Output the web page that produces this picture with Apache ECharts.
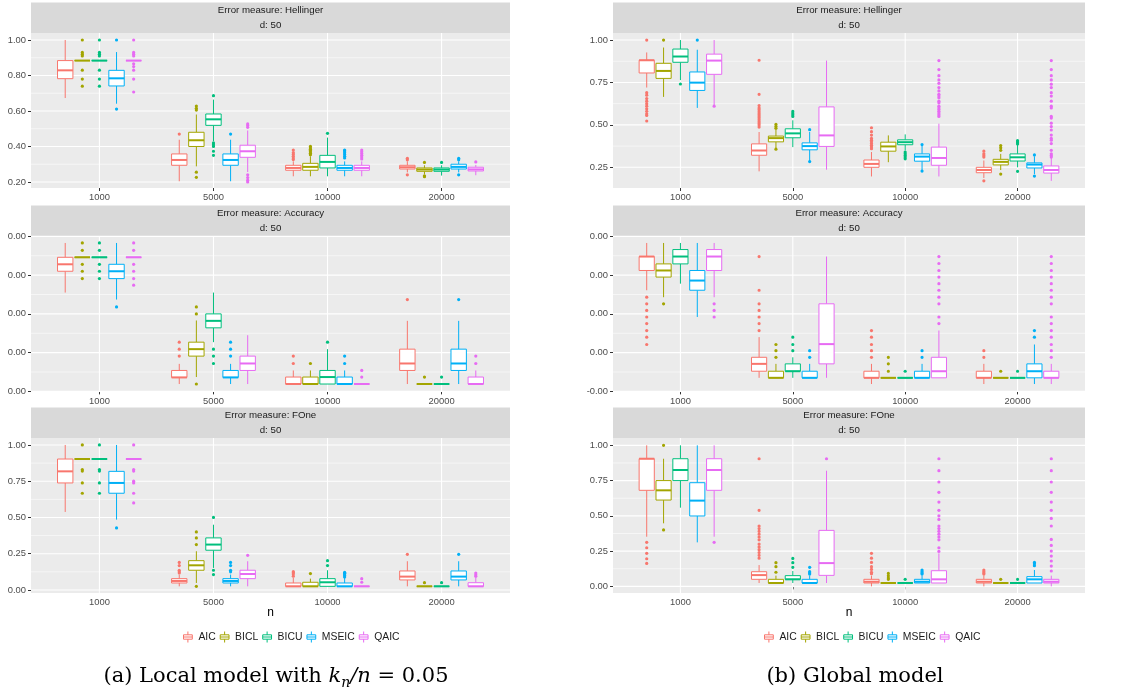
<!DOCTYPE html>
<html><head><meta charset="utf-8">
<script src="https://cdn.jsdelivr.net/npm/echarts@6/dist/echarts.min.js"></script>
<style>html,body{margin:0;padding:0;background:#fff}#c{width:1129px;height:698px}</style>
</head><body><div id="c"></div><script>
// ---------- data ----------
const nLabels = ['1000', '5000', '10000', '20000'];
const methods = ['AIC', 'BICL', 'BICU', 'MSEIC', 'QAIC'];
const colors = ['#F8766D', '#A3A500', '#00BF7D', '#00B0F6', '#E76BF3'];

// stats per method, per n: [lower whisker, Q1, median, Q3, upper whisker]
const helLocalStats = [
  [[0.673,0.782,0.829,0.884,1.00],[0.204,0.294,0.324,0.358,0.438],[0.232,0.266,0.279,0.294,0.316],[0.254,0.273,0.283,0.294,0.316]],
  [[0.884,0.884,0.884,0.884,0.884],[0.288,0.400,0.435,0.480,0.580],[0.232,0.266,0.285,0.305,0.345],[0.243,0.260,0.270,0.279,0.294]],
  [[0.884,0.884,0.884,0.884,0.884],[0.430,0.519,0.553,0.583,0.664],[0.232,0.279,0.313,0.350,0.450],[0.236,0.260,0.270,0.279,0.294]],
  [[0.641,0.741,0.784,0.829,0.932],[0.204,0.294,0.324,0.358,0.438],[0.232,0.266,0.279,0.294,0.316],[0.254,0.273,0.285,0.300,0.316]],
  [[0.884,0.884,0.884,0.884,0.884],[0.256,0.339,0.373,0.407,0.490],[0.232,0.266,0.279,0.294,0.316],[0.238,0.262,0.271,0.283,0.296]]
];
const helLocalOut = [
  [[],[0.47],[0.326,0.335,0.345,0.355,0.365,0.38],[0.325,0.333,0.24]],
  [[1.0,0.93,0.92,0.91,0.83,0.78,0.74],[0.628,0.615,0.605,0.255,0.226],[0.354,0.362,0.37,0.378,0.385,0.392,0.40],[0.31,0.235,0.23]],
  [[1.0,0.93,0.92,0.91,0.83,0.78,0.74],[0.686,0.42,0.41,0.40,0.373,0.35],[0.474],[0.31]],
  [[1.0,0.611],[0.47],[0.335,0.345,0.355,0.365,0.375,0.38],[0.325,0.333,0.24]],
  [[1.0,0.93,0.92,0.91,0.866,0.85,0.83,0.78,0.707],[0.527,0.518,0.508,0.24,0.225,0.21,0.20],[0.33,0.34,0.35,0.36,0.37,0.38],[0.313]]
];
const helGlobalStats = [
  [[0.720,0.806,0.881,0.881,0.927],[0.226,0.321,0.349,0.388,0.458],[0.196,0.250,0.270,0.293,0.340],[0.187,0.218,0.234,0.250,0.290]],
  [[0.665,0.774,0.818,0.863,0.956],[0.357,0.400,0.422,0.434,0.470],[0.280,0.345,0.373,0.398,0.438],[0.234,0.264,0.282,0.297,0.329]],
  [[0.764,0.869,0.903,0.947,1.000],[0.369,0.424,0.450,0.477,0.527],[0.349,0.383,0.398,0.412,0.444],[0.250,0.287,0.309,0.329,0.385]],
  [[0.600,0.703,0.749,0.812,0.943],[0.284,0.353,0.375,0.394,0.458],[0.234,0.286,0.313,0.329,0.378],[0.210,0.246,0.266,0.276,0.315]],
  [[0.610,0.798,0.879,0.917,1.000],[0.236,0.373,0.438,0.606,0.879],[0.196,0.262,0.305,0.369,0.507],[0.170,0.216,0.234,0.258,0.310]]
];
const helGlobalOut = [
  [[1.0,0.69,0.675,0.655,0.64,0.625,0.61,0.595,0.58,0.565,0.556,0.523],[0.881,0.68,0.614,0.60,0.59,0.58,0.57,0.56,0.55,0.54,0.53,0.52,0.51,0.50,0.487],[0.483,0.46,0.44,0.42,0.41,0.40,0.39,0.38,0.37,0.36],[0.345,0.33,0.32,0.31,0.17]],
  [[1.0],[0.503,0.49,0.48,0.357],[],[0.378,0.365,0.35,0.21]],
  [[0.741],[0.58,0.57,0.56,0.55],[0.34,0.33,0.32,0.31,0.30],[0.408,0.40,0.395,0.388,0.226]],
  [[1.0],[0.472,0.284],[0.384,0.228],[0.323,0.198]],
  [[0.61],[],[0.879,0.826,0.79,0.765,0.745,0.72,0.70,0.68,0.67,0.66,0.64,0.63,0.61,0.60,0.59,0.58,0.57,0.56,0.55],[0.879,0.826,0.79,0.765,0.74,0.72,0.69,0.67,0.64,0.61,0.60,0.55,0.54,0.51,0.49,0.47,0.44,0.42,0.41,0.39,0.35,0.33,0.32,0.31]]
];
const accLocalStats = [
  [[2.55,3.10,3.28,3.46,3.83],[0.19,0.36,0.36,0.54,0.71],[0.19,0.19,0.19,0.37,0.54],[0.19,0.54,0.72,1.09,1.82]],
  [[3.46,3.46,3.46,3.46,3.46],[0.37,0.91,1.09,1.27,1.83],[0.19,0.19,0.19,0.37,0.54],[0.19,0.19,0.19,0.19,0.19]],
  [[3.46,3.46,3.46,3.46,3.46],[1.27,1.64,1.82,2.00,2.55],[0.19,0.19,0.37,0.54,1.09],[0.19,0.19,0.19,0.19,0.19]],
  [[2.37,2.91,3.10,3.28,3.83],[0.19,0.36,0.36,0.54,0.71],[0.19,0.19,0.19,0.37,0.54],[0.19,0.54,0.72,1.09,1.82]],
  [[3.46,3.46,3.46,3.46,3.46],[0.19,0.54,0.72,0.91,1.45],[0.19,0.19,0.19,0.19,0.19],[0.19,0.19,0.19,0.37,0.54]]
];
const accLocalOut = [
  [[],[1.27,1.09,0.91],[0.91,0.72],[2.37]],
  [[3.83,3.64,3.28,3.10,2.91],[2.18,2.00,0.19],[0.72],[0.37]],
  [[3.83,3.64,3.28,3.10,2.91],[1.09,0.91,0.72],[1.27],[0.37]],
  [[2.18],[1.27,1.09,0.91],[0.91,0.72],[2.37]],
  [[3.83,3.64,3.28,3.10,2.91,2.74],[],[0.54,0.37],[0.91,0.72]]
];
const accGlobalStats = [
  [[2.61,3.12,3.48,3.48,3.83],[0.35,0.52,0.71,0.88,1.40],[0.19,0.35,0.35,0.52,0.71],[0.19,0.35,0.35,0.52,0.71]],
  [[2.43,2.95,3.12,3.29,3.83],[0.35,0.35,0.35,0.52,0.71],[0.35,0.35,0.35,0.35,0.35],[0.35,0.35,0.35,0.35,0.35]],
  [[2.78,3.29,3.48,3.66,3.83],[0.35,0.52,0.52,0.71,0.88],[0.35,0.35,0.35,0.35,0.35],[0.35,0.35,0.35,0.35,0.35]],
  [[1.92,2.61,2.86,3.12,3.83],[0.35,0.35,0.35,0.52,0.71],[0.35,0.35,0.35,0.52,0.71],[0.19,0.35,0.52,0.71,1.21]],
  [[2.43,3.12,3.48,3.66,3.83],[0.35,0.71,1.22,2.26,3.48],[0.35,0.35,0.52,0.88,1.57],[0.19,0.35,0.35,0.52,0.71]]
];
const accGlobalOut = [
  [[2.43,2.26,2.09,1.92,1.75,1.57,1.40,1.21],[3.48,2.61,2.26,2.09,1.92,1.75,1.57],[1.57,1.40,1.21,1.05,0.88],[1.05,0.88]],
  [[2.26],[1.21,1.05,0.88],[0.88,0.71,0.52],[0.52]],
  [[],[1.40,1.21,1.05],[0.52],[0.52]],
  [[],[1.05,0.88],[1.05,0.88],[1.57,1.40]],
  [[2.26,2.09,1.92],[],[3.48,3.30,3.12,2.95,2.78,2.61,2.43,2.26,1.92,1.75],[3.48,3.30,3.12,2.95,2.78,2.61,2.43,2.26,1.92,1.75,1.57,1.40,1.21,1.05,0.88]]
];
const foneLocalStats = [
  [[0.538,0.738,0.818,0.903,1.0],[0.025,0.048,0.062,0.078,0.106],[0.025,0.025,0.025,0.048,0.083],[0.025,0.069,0.092,0.131,0.198]],
  [[0.903,0.903,0.903,0.903,0.903],[0.048,0.136,0.170,0.202,0.267],[0.025,0.025,0.025,0.053,0.078],[0.025,0.025,0.025,0.025,0.025]],
  [[0.903,0.903,0.903,0.903,0.903],[0.152,0.274,0.313,0.359,0.450],[0.025,0.025,0.053,0.078,0.136],[0.025,0.025,0.025,0.025,0.025]],
  [[0.485,0.667,0.738,0.818,1.0],[0.025,0.048,0.062,0.078,0.106],[0.025,0.025,0.025,0.048,0.083],[0.025,0.069,0.092,0.131,0.198]],
  [[0.903,0.903,0.903,0.903,0.903],[0.025,0.078,0.110,0.136,0.198],[0.025,0.025,0.025,0.025,0.025],[0.025,0.025,0.025,0.050,0.083]]
];
const foneLocalOut = [
  [[],[0.19,0.168,0.136,0.125,0.117],[0.126,0.118,0.11,0.095],[0.246]],
  [[1.0,0.83,0.82,0.738,0.667],[0.40,0.359,0.313,0.025],[0.113],[0.05]],
  [[1.0,0.83,0.82,0.738,0.667],[0.50,0.136,0.106],[0.202,0.168],[0.05]],
  [[0.428],[0.19,0.168,0.136,0.125],[0.122,0.115,0.11,0.10,0.09],[0.246]],
  [[1.0,0.83,0.82,0.75,0.738,0.667,0.60],[0.239],[0.078,0.053],[0.117,0.105,0.094]]
];
const foneGlobalStats = [
  [[0.352,0.681,0.905,0.905,1.0],[0.024,0.050,0.080,0.104,0.151],[0.0,0.024,0.033,0.050,0.076],[0.0,0.024,0.033,0.050,0.076]],
  [[0.447,0.612,0.681,0.750,0.905],[0.024,0.024,0.024,0.050,0.076],[0.024,0.024,0.024,0.024,0.024],[0.024,0.024,0.024,0.024,0.024]],
  [[0.558,0.750,0.825,0.905,1.0],[0.024,0.050,0.050,0.076,0.109],[0.024,0.024,0.024,0.024,0.024],[0.024,0.024,0.024,0.024,0.024]],
  [[0.312,0.499,0.608,0.735,1.0],[0.024,0.024,0.024,0.050,0.076],[0.024,0.024,0.033,0.050,0.076],[0.024,0.024,0.050,0.069,0.116]],
  [[0.352,0.681,0.825,0.905,1.0],[0.024,0.078,0.165,0.397,0.820],[0.024,0.024,0.050,0.111,0.234],[0.0,0.024,0.033,0.050,0.076]]
];
const foneGlobalOut = [
  [[0.312,0.274,0.234,0.196,0.163],[0.905,0.539,0.428,0.41,0.39,0.37,0.35,0.33,0.30,0.28,0.26,0.24,0.22,0.20],[0.234,0.20,0.17,0.14,0.12,0.10,0.09],[0.116,0.105,0.095,0.087]],
  [[1.0,0.40],[0.168,0.14,0.10],[0.092,0.075,0.06,0.05],[0.05]],
  [[],[0.198,0.168,0.135],[0.05],[0.05]],
  [[],[0.135,0.104,0.095,0.087],[0.116,0.105,0.095,0.087],[0.17,0.16,0.147]],
  [[0.312],[0.905],[0.905,0.82,0.74,0.667,0.598,0.539,0.50,0.475,0.428,0.41,0.39,0.37,0.35,0.33,0.274,0.248],[0.905,0.82,0.74,0.667,0.598,0.539,0.482,0.428,0.333,0.29,0.25,0.215,0.18,0.144,0.109]]
];

// tick values and labels
const helLocalTicks = [0.2, 0.4, 0.6, 0.8, 1.0];
const helLocalMinor = [0.3, 0.5, 0.7, 0.9];
const helGlobalTicks = [0.25, 0.5, 0.75, 1.0];
const helGlobalMinor = [0.375, 0.625, 0.875];
const accTicks = [0, 1, 2, 3, 4];
const accMinor = [0.5, 1.5, 2.5, 3.5];
const accLocalLabels = ['0.00', '0.00', '0.00', '0.00', '0.00'];
const accGlobalLabels = ['-0.00', '0.00', '0.00', '0.00', '0.00'];
const foneTicks = [0, 0.25, 0.5, 0.75, 1.0];
const foneMinor = [0.125, 0.375, 0.625, 0.875];

const stripTitles = ['Error measure: Hellinger', 'Error measure: Accuracy', 'Error measure: FOne'];
const stripSub = 'd: 50';

// ---------- layout ----------
const COLS = [{left: 31, width: 479, legendLeft: 183, capX: 276}, {left: 613, width: 472, legendLeft: 764, capX: 855}];
const ROWS = [{top: 33, height: 155}, {top: 236, height: 156}, {top: 438, height: 155}];
const X_MIN = 0.4, X_MAX = 4.6, DODGE = 0.15, BOXW = 0.135;
const fmt2 = v => v.toFixed(2);

const panels = [
  {col:0,row:0,stats:helLocalStats,out:helLocalOut,ticks:helLocalTicks,minor:helLocalMinor,label:fmt2,ymin:0.166,ymax:1.0394},
  {col:1,row:0,stats:helGlobalStats,out:helGlobalOut,ticks:helGlobalTicks,minor:helGlobalMinor,label:fmt2,ymin:0.128,ymax:1.0416},
  {col:0,row:1,stats:accLocalStats,out:accLocalOut,ticks:accTicks,minor:accMinor,label:v=>accLocalLabels[accTicks.indexOf(v)],ymin:-0.016,ymax:4.01},
  {col:1,row:1,stats:accGlobalStats,out:accGlobalOut,ticks:accTicks,minor:accMinor,label:v=>accGlobalLabels[accTicks.indexOf(v)],ymin:-0.016,ymax:4.01},
  {col:0,row:2,stats:foneLocalStats,out:foneLocalOut,ticks:foneTicks,minor:foneMinor,label:fmt2,ymin:-0.021,ymax:1.048},
  {col:1,row:2,stats:foneGlobalStats,out:foneGlobalOut,ticks:foneTicks,minor:foneMinor,label:fmt2,ymin:-0.047,ymax:1.052}
];

function gridRender(p) {
  return function (params, api) {
    const cs = params.coordSys;
    const kind = api.value(2);
    if (kind === 2) {
      const x = api.coord([api.value(0), p.ymin])[0];
      return {type:'line', shape:{x1:x, y1:cs.y, x2:x, y2:cs.y + cs.height}, style:{stroke:'#FFFFFF', lineWidth:1.1}};
    }
    const y = api.coord([X_MIN, api.value(1)])[1];
    return {type:'line', shape:{x1:cs.x, y1:y, x2:cs.x + cs.width, y2:y}, style:{stroke:'#FFFFFF', lineWidth: kind === 0 ? 1.1 : 0.55}};
  };
}

function boxRender(p, m) {
  return function (params, api) {
    const g = params.dataIndex;
    const s = p.stats[m][g];
    const xc = api.value(0) + (m - 2) * DODGE;
    const a = api.coord([xc - BOXW / 2, s[3]]);
    const b = api.coord([xc + BOXW / 2, s[1]]);
    const cx = api.coord([xc, s[2]])[0];
    const yMed = api.coord([xc, s[2]])[1];
    const yHi = api.coord([xc, s[4]])[1];
    const yLo = api.coord([xc, s[0]])[1];
    const c = colors[m];
    const children = [
      {type:'line', shape:{x1:cx, y1:yHi, x2:cx, y2:a[1]}, style:{stroke:c, lineWidth:1}},
      {type:'line', shape:{x1:cx, y1:b[1], x2:cx, y2:yLo}, style:{stroke:c, lineWidth:1}},
      {type:'rect', shape:{x:a[0], y:a[1], width:b[0] - a[0], height:Math.max(b[1] - a[1], 0.01)}, style:{fill:'#FFFFFF', stroke:c, lineWidth:1}},
      {type:'line', shape:{x1:a[0], y1:yMed, x2:b[0], y2:yMed}, style:{stroke:c, lineWidth:2}}
    ];
    p.out[m][g].forEach(v => {
      const pt = api.coord([xc, v]);
      children.push({type:'circle', shape:{cx:pt[0], cy:pt[1], r:1.6}, style:{fill:c}});
    });
    return {type:'group', children};
  };
}

const grids = [], xAxes = [], yAxes = [], series = [], graphics = [];
panels.forEach((p, i) => {
  const C = COLS[p.col], R = ROWS[p.row];
  grids.push({left:C.left, top:R.top, width:C.width, height:R.height, show:true, backgroundColor:'#EBEBEB', borderWidth:0});
  xAxes.push({
    type:'value', gridIndex:i, min:X_MIN, max:X_MAX,
    splitLine:{show:false}, axisLine:{show:false},
    axisTick:{show:true, customValues:[1,2,3,4], length:3, lineStyle:{color:'#333333', width:1}},
    axisLabel:{customValues:[1,2,3,4], formatter:v => nLabels[Math.round(v) - 1], color:'#4D4D4D', fontSize:9.4, margin:5}
  });
  yAxes.push({
    type:'value', gridIndex:i, min:p.ymin, max:p.ymax,
    splitLine:{show:false}, axisLine:{show:false},
    axisTick:{show:true, customValues:p.ticks, length:3, lineStyle:{color:'#333333', width:1}},
    axisLabel:{customValues:p.ticks, formatter:p.label, color:'#4D4D4D', fontSize:9.4, margin:5}
  });
  const gl = [];
  p.ticks.forEach(v => gl.push([X_MIN, v, 0]));
  p.minor.forEach(v => gl.push([X_MIN, v, 1]));
  [1,2,3,4].forEach(v => gl.push([v, p.ymin, 2]));
  series.push({type:'custom', xAxisIndex:i, yAxisIndex:i, silent:true, z:1, renderItem:gridRender(p), data:gl, encode:{x:0, y:1}});
  methods.forEach((name, m) => {
    series.push({
      type:'custom', name, xAxisIndex:i, yAxisIndex:i, z:2, silent:true,
      itemStyle:{color:colors[m]},
      renderItem:boxRender(p, m),
      data:nLabels.map((_, g) => [g + 1, p.stats[m][g][2]]),
      encode:{x:0, y:1}
    });
  });
  graphics.push({type:'rect', silent:true, shape:{x:C.left, y:R.top - 30.5, width:C.width, height:30.5}, style:{fill:'#D9D9D9'}});
  graphics.push({type:'text', silent:true, style:{text:stripTitles[p.row], x:C.left + C.width / 2, y:R.top - 22.7, align:'center', verticalAlign:'middle', textAlign:'center', textVerticalAlign:'middle', fill:'#1A1A1A', font:'9.7px "Liberation Sans"'}});
  graphics.push({type:'text', silent:true, style:{text:stripSub, x:C.left + C.width / 2, y:R.top - 7.2, align:'center', verticalAlign:'middle', textAlign:'center', textVerticalAlign:'middle', fill:'#1A1A1A', font:'9.7px "Liberation Sans"'}});
});

COLS.forEach(C => {
  graphics.push({type:'text', silent:true, style:{text:'n', x:C.left + C.width / 2, y:613, align:'center', verticalAlign:'middle', textAlign:'center', textVerticalAlign:'middle', fill:'#000000', font:'12px "Liberation Sans"'}});
});
const capRich = {
  a:{fontFamily:'DejaVu Serif', fontSize:21, color:'#000', lineHeight:26},
  i:{fontFamily:'DejaVu Serif', fontStyle:'italic', fontSize:21, color:'#000', lineHeight:26},
  s:{fontFamily:'DejaVu Serif', fontStyle:'italic', fontSize:14, color:'#000', lineHeight:26, verticalAlign:'bottom'}
};
graphics.push({type:'text', silent:true, style:{text:'{a|(a) Local model with }{i|k}{s|n}{i|/n}{a| = 0.05}', rich:capRich, x:COLS[0].capX, y:677, align:'center', verticalAlign:'middle', textAlign:'center', textVerticalAlign:'middle'}});
graphics.push({type:'text', silent:true, style:{text:'{a|(b) Global model}', rich:capRich, x:COLS[1].capX, y:677, align:'center', verticalAlign:'middle', textAlign:'center', textVerticalAlign:'middle'}});

const KEY_ICON = 'path://M1,3H9V7H1Z M1,5H9 M5,0V3 M5,7V10';
const legends = COLS.map(C => ({
  left:C.legendLeft, top:631, padding:0, orient:'horizontal', itemWidth:11, itemHeight:11, itemGap:4, selectedMode:false,
  textStyle:{fontSize:10.4, color:'#1A1A1A', fontFamily:'Liberation Sans'},
  data:methods.map((name, m) => ({name, icon:KEY_ICON, itemStyle:{color:'rgba(0,0,0,0)', borderColor:colors[m], borderWidth:1}}))
}));

const chart = echarts.init(document.getElementById('c'), null, {renderer:'canvas'});
chart.setOption({
  animation:false,
  backgroundColor:'#FFFFFF',
  textStyle:{fontFamily:'Liberation Sans'},
  grid:grids, xAxis:xAxes, yAxis:yAxes, series, legend:legends, graphic:graphics
});
</script></body></html>
